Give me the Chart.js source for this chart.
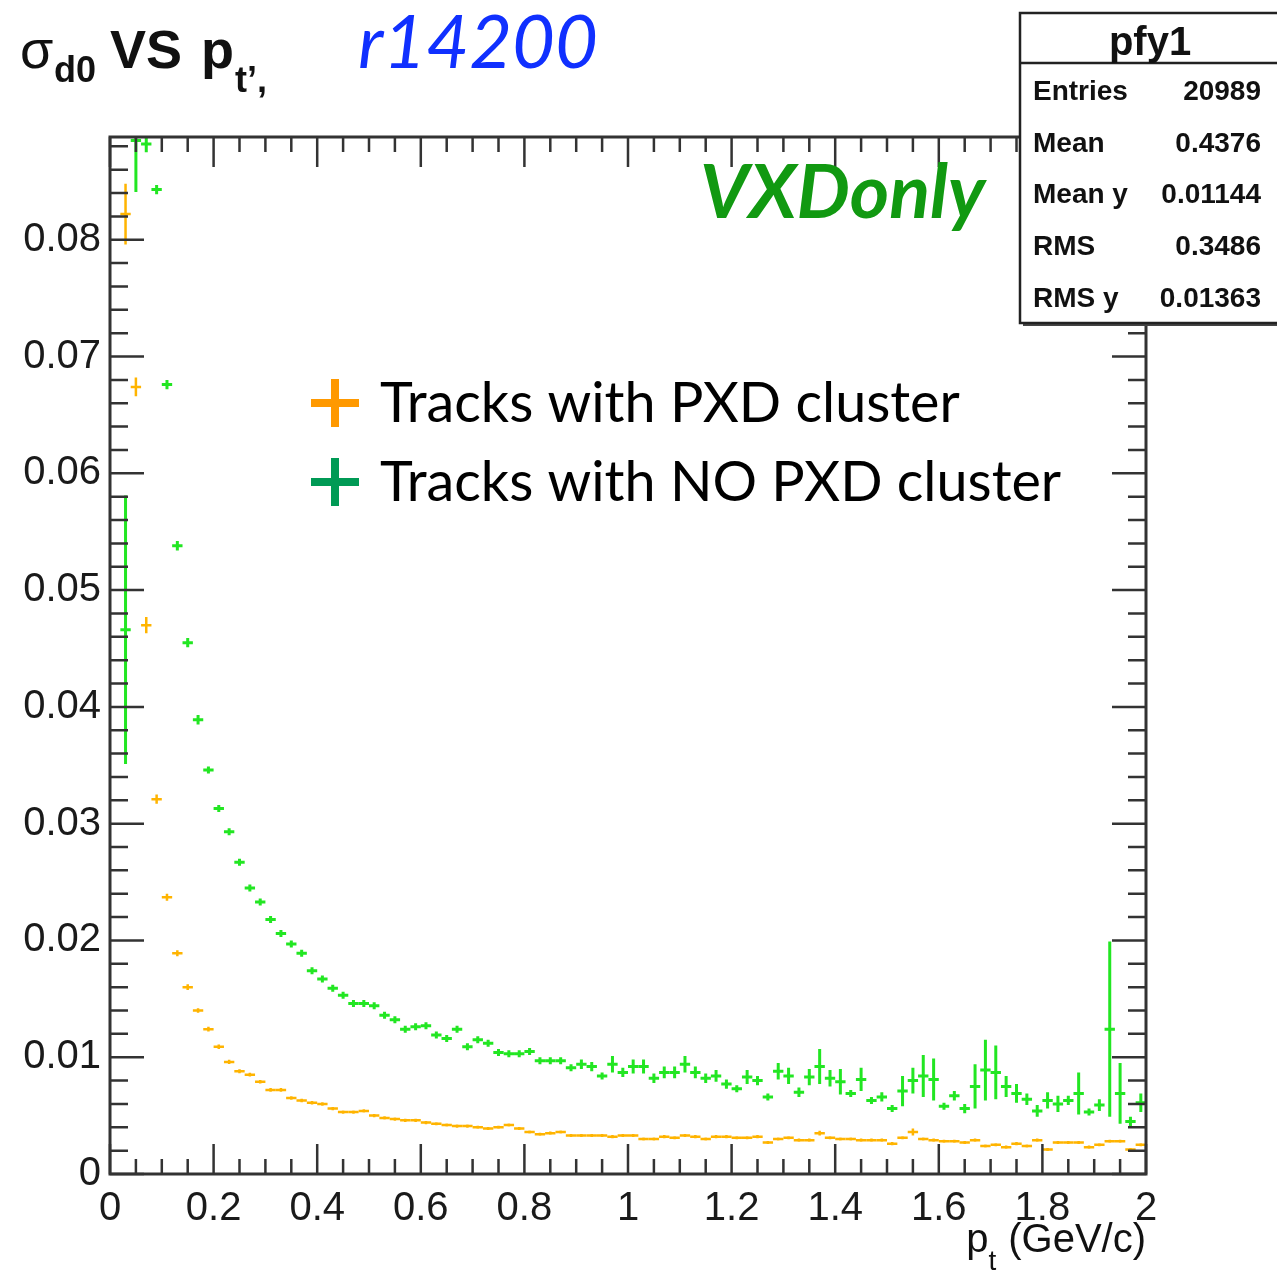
<!DOCTYPE html>
<html>
<head>
<meta charset="utf-8">
<script src="https://cdn.jsdelivr.net/npm/chart.js@4.4.1/dist/chart.umd.min.js"></script>
<style>
  html, body { margin: 0; padding: 0; background: #fff; }
  #wrap { width: 1277px; height: 1274px; }
</style>
</head>
<body>
<div id="wrap"><canvas id="myChart" width="1277" height="1274"></canvas></div>
<script>
// histogram bins: 0.02 wide, first filled bin centred at 0.03 GeV/c
const binCenters = Array.from({ length: 99 }, (_, i) => +(0.03 + 0.02 * i).toFixed(2));
const binHalfWidth = 0.01;

// tracks with PXD cluster
const pxdValues = [
  0.0822, 0.0674, 0.0470, 0.0321, 0.0237, 0.0189, 0.0160, 0.0140, 0.0124, 0.0109,
  0.0096, 0.0088, 0.0085, 0.0079, 0.0072, 0.0072, 0.0065, 0.0063, 0.0061, 0.0060,
  0.0056, 0.0053, 0.0053, 0.0054, 0.0050, 0.0048, 0.0047, 0.0046, 0.0046, 0.0044,
  0.0043, 0.0042, 0.0041, 0.0041, 0.0040, 0.0039, 0.0040, 0.0042, 0.0039, 0.0036,
  0.0034, 0.0035, 0.0036, 0.0033, 0.0033, 0.0033, 0.0033, 0.0032, 0.0033, 0.0033,
  0.0030, 0.0030, 0.0032, 0.0031, 0.0033, 0.0032, 0.0030, 0.0032, 0.0032, 0.0031,
  0.0031, 0.0032, 0.0027, 0.0030, 0.0031, 0.0029, 0.0029, 0.0035, 0.0031, 0.0030,
  0.0030, 0.0029, 0.0029, 0.0029, 0.0026, 0.0031, 0.0036, 0.0030, 0.0029, 0.0028,
  0.0028, 0.0027, 0.0029, 0.0024, 0.0025, 0.0023, 0.0026, 0.0024, 0.0029, 0.0021,
  0.0027, 0.0027, 0.0027, 0.0023, 0.0025, 0.0028, 0.0028, 0.0021, 0.0025
];
const pxdErrors = [
  0.0026, 0.0008, 0.0007, 0.0004, 0.0003, 0.00025, 0.00025, 0.0002, 0.0002, 0.0002,
  0.00018, 0.00018, 0.00016, 0.00016, 0.00016, 0.00016, 0.00015, 0.00015, 0.00015, 0.00015,
  0.00014, 0.00014, 0.00014, 0.00014, 0.00014, 0.00014, 0.00014, 0.00014, 0.00014, 0.00014,
  0.00013, 0.00013, 0.00013, 0.00013, 0.00013, 0.00013, 0.00013, 0.00013, 0.00013, 0.00013,
  0.00013, 0.00013, 0.00013, 0.00013, 0.00013, 0.00013, 0.00013, 0.00013, 0.00013, 0.00013,
  0.00013, 0.00013, 0.00013, 0.00013, 0.00013, 0.00013, 0.00013, 0.00013, 0.00013, 0.00013,
  0.00013, 0.00013, 0.00013, 0.00013, 0.00013, 0.00013, 0.00013, 0.0002, 0.00013, 0.00013,
  0.00013, 0.00013, 0.00013, 0.00013, 0.00013, 0.00013, 0.0003, 0.00013, 0.00013, 0.00013,
  0.00013, 0.00013, 0.00013, 0.00013, 0.00013, 0.00013, 0.00013, 0.00013, 0.00013, 0.00013,
  0.00013, 0.00013, 0.00013, 0.00013, 0.00013, 0.00013, 0.00013, 0.00013, 0.00013
];

// tracks with NO PXD cluster
const noPxdValues = [
  0.0466, 0.0885, 0.0882, 0.0843, 0.0676, 0.0538, 0.0455, 0.0389, 0.0346, 0.0313,
  0.0293, 0.0267, 0.0245, 0.0233, 0.0218, 0.0206, 0.0197, 0.0189, 0.0174, 0.0167,
  0.0159, 0.0153, 0.0146, 0.0146, 0.0144, 0.0136, 0.0132, 0.0124, 0.0126, 0.0127,
  0.0119, 0.0116, 0.0124, 0.0109, 0.0115, 0.0112, 0.0104, 0.0103, 0.0103, 0.0105,
  0.0097, 0.0097, 0.0097, 0.0091, 0.0094, 0.0092, 0.0084, 0.0094, 0.0087, 0.0092,
  0.0092, 0.0082, 0.0087, 0.0087, 0.0094, 0.0087, 0.0082, 0.0084, 0.0077, 0.0073,
  0.0083, 0.0080, 0.0066, 0.0088, 0.0084, 0.0070, 0.0083, 0.0092, 0.0082, 0.0079,
  0.0069, 0.0081, 0.0063, 0.0066, 0.0056, 0.0071, 0.0080, 0.0084, 0.0081, 0.0058,
  0.0067, 0.0056, 0.0075, 0.0089, 0.0087, 0.0075, 0.0069, 0.0064, 0.0054, 0.0063,
  0.0060, 0.0063, 0.0069, 0.0053, 0.0059, 0.0124, 0.0069, 0.0045, 0.0061
];
const noPxdErrors = [
  0.0115, 0.0044, 0.0007, 0.0004, 0.0004, 0.0004, 0.0004, 0.0004, 0.0003, 0.0003,
  0.0003, 0.0003, 0.0003, 0.0003, 0.0003, 0.0003, 0.0003, 0.0003, 0.0003, 0.0003,
  0.0003, 0.0003, 0.0003, 0.0003, 0.0003, 0.0003, 0.0003, 0.0003, 0.0003, 0.0003,
  0.0003, 0.0003, 0.0003, 0.0003, 0.0003, 0.0003, 0.0003, 0.0003, 0.0003, 0.0003,
  0.0003, 0.0003, 0.0003, 0.0003, 0.0004, 0.0004, 0.0003, 0.0007, 0.0004, 0.0006,
  0.0006, 0.0004, 0.0005, 0.0005, 0.0007, 0.0005, 0.0004, 0.0005, 0.0004, 0.0003,
  0.0006, 0.0004, 0.0003, 0.0007, 0.0007, 0.0004, 0.0007, 0.0015, 0.0007, 0.0011,
  0.0003, 0.0010, 0.0003, 0.0004, 0.0003, 0.0013, 0.0011, 0.0018, 0.0018, 0.0003,
  0.0004, 0.0004, 0.0019, 0.0026, 0.0023, 0.0009, 0.0008, 0.0005, 0.0005, 0.0007,
  0.0007, 0.0004, 0.0018, 0.0003, 0.0005, 0.0075, 0.0026, 0.0004, 0.0008
];

const xMajor = [0, 0.2, 0.4, 0.6, 0.8, 1, 1.2, 1.4, 1.6, 1.8, 2];
const xTickLabels = ['0', '0.2', '0.4', '0.6', '0.8', '1', '1.2', '1.4', '1.6', '1.8', '2'];
const yMajor = [0, 0.01, 0.02, 0.03, 0.04, 0.05, 0.06, 0.07, 0.08];
const yTickLabels = ['0', '0.01', '0.02', '0.03', '0.04', '0.05', '0.06', '0.07', '0.08'];
const yMax = 0.0888;

const statsTitle = 'pfy1';
const statsNames = ['Entries', 'Mean', 'Mean y', 'RMS', 'RMS y'];
const statsValues = ['20989', '0.4376', '0.01144', '0.3486', '0.01363'];

const legendLabels = ['Tracks with PXD cluster', 'Tracks with NO PXD cluster'];
const legendColors = ['#ff9900', '#009a55'];

const toPoints = (vals, errs) => binCenters.map((x, i) => ({ x: x, y: vals[i], e: errs[i] }));

function fitFont(ctx, text, width, style, family) {
  ctx.font = style + ' 100px ' + family;
  const s = 100 * width / ctx.measureText(text).width;
  return style + ' ' + s.toFixed(1) + 'px ' + family;
}

const rootLook = {
  id: 'rootLook',
  afterDatasetsDraw(chart) {
    const { ctx, chartArea: a, scales: { x, y } } = chart;
    ctx.save();
    ctx.beginPath();
    ctx.rect(a.left, a.top, a.right - a.left, a.bottom - a.top);
    ctx.clip();
    chart.data.datasets.forEach(ds => {
      ctx.strokeStyle = ds.borderColor;
      ctx.lineWidth = ds.barWidth;
      ds.data.forEach(p => {
        const px = x.getPixelForValue(p.x), py = y.getPixelForValue(p.y);
        ctx.beginPath();
        ctx.moveTo(x.getPixelForValue(p.x - binHalfWidth), py);
        ctx.lineTo(x.getPixelForValue(p.x + binHalfWidth), py);
        ctx.moveTo(px, y.getPixelForValue(p.y - p.e));
        ctx.lineTo(px, y.getPixelForValue(p.y + p.e));
        ctx.stroke();
      });
    });
    ctx.restore();
  },
  afterDraw(chart) {
    const { ctx, chartArea: a, scales: { x, y } } = chart;
    ctx.save();
    // ticks pointing inwards, on all four sides
    ctx.strokeStyle = '#333';
    ctx.lineWidth = 2.5;
    ctx.beginPath();
    for (let i = 0; i <= 40; i++) {
      const v = i * 0.05, px = x.getPixelForValue(v);
      const len = (i % 4 === 0) ? 30 : 15;
      ctx.moveTo(px, a.bottom); ctx.lineTo(px, a.bottom - len);
      ctx.moveTo(px, a.top); ctx.lineTo(px, a.top + len);
    }
    for (let i = 0; i * 0.002 <= yMax; i++) {
      const py = y.getPixelForValue(i * 0.002);
      const len = (i % 5 === 0) ? 34 : 18;
      ctx.moveTo(a.left, py); ctx.lineTo(a.left + len, py);
      ctx.moveTo(a.right, py); ctx.lineTo(a.right - len, py);
    }
    ctx.stroke();
    ctx.lineWidth = 3;
    ctx.strokeRect(a.left, a.top, a.right - a.left, a.bottom - a.top);

    // title
    ctx.fillStyle = '#111';
    ctx.textAlign = 'left';
    ctx.textBaseline = 'alphabetic';
    ctx.font = '54px "Liberation Sans"';
    ctx.fillText('σ', 20, 68);
    ctx.font = 'bold 36px "Liberation Sans"';
    ctx.fillText('d0', 54, 82);
    ctx.font = 'bold 54px "Liberation Sans"';
    ctx.fillText('VS', 110, 68);
    ctx.fillText('p', 201, 68);
    ctx.font = 'bold 36px "Liberation Sans"';
    ctx.fillText('t\u2019,', 235, 92);

    ctx.fillStyle = '#1030ff';
    ctx.font = fitFont(ctx, 'r14200', 240, 'italic', 'Lato');
    ctx.fillText('r14200', 358, 68);

    ctx.fillStyle = '#119911';
    ctx.font = fitFont(ctx, 'VXDonly', 285, 'italic bold', 'Lato');
    ctx.fillText('VXDonly', 700, 218);

    // axis title
    ctx.fillStyle = '#111';
    ctx.font = '40px "Liberation Sans"';
    ctx.textAlign = 'right';
    ctx.fillText('(GeV/c)', a.right, 1252);
    const gw = ctx.measureText('(GeV/c)').width;
    ctx.font = '28px "Liberation Sans"';
    ctx.fillText('t', a.right - gw - 12, 1270);
    const tw = ctx.measureText('t').width;
    ctx.font = '40px "Liberation Sans"';
    ctx.fillText('p', a.right - gw - 12 - tw, 1252);

    // legend
    ctx.textAlign = 'left';
    const legFont = fitFont(ctx, legendLabels[0], 580, 'normal', 'Lato');
    legendLabels.forEach((lab, i) => {
      const cy = 403 + i * 79;
      ctx.strokeStyle = legendColors[i];
      ctx.lineWidth = 8;
      ctx.beginPath();
      ctx.moveTo(311, cy); ctx.lineTo(359, cy);
      ctx.moveTo(335, cy - 24); ctx.lineTo(335, cy + 24);
      ctx.stroke();
      ctx.fillStyle = '#000';
      ctx.font = legFont;
      ctx.fillText(lab, 380, cy + 19);
    });

    // stats box
    ctx.fillStyle = '#444';
    ctx.fillRect(1023, 16, 260, 310);
    ctx.fillStyle = '#fff';
    ctx.fillRect(1020, 13, 260, 310);
    ctx.strokeStyle = '#222';
    ctx.lineWidth = 2.5;
    ctx.strokeRect(1020, 13, 260, 310);
    ctx.beginPath();
    ctx.moveTo(1020, 63); ctx.lineTo(1277, 63);
    ctx.stroke();
    ctx.fillStyle = '#111';
    ctx.textAlign = 'center';
    ctx.font = 'bold 40px "Liberation Sans"';
    ctx.fillText(statsTitle, 1150, 55);
    ctx.font = 'bold 28px "Liberation Sans"';
    statsNames.forEach((n, i) => {
      const by = 100 + i * 51.7;
      ctx.textAlign = 'left';
      ctx.fillText(n, 1033, by);
      ctx.textAlign = 'right';
      ctx.fillText(statsValues[i], 1261, by);
    });
    ctx.restore();
  }
};

const ctx = document.getElementById('myChart').getContext('2d');
const myChart = new Chart(ctx, {
  type: 'scatter',
  data: {
    datasets: [{
      label: legendLabels[0],
      data: toPoints(pxdValues, pxdErrors),
      borderColor: '#ffb400',
      backgroundColor: '#ffb400',
      barWidth: 2.5,
      pointRadius: 0,
      showLine: false
    }, {
      label: legendLabels[1],
      data: toPoints(noPxdValues, noPxdErrors),
      borderColor: '#22e622',
      backgroundColor: '#22e622',
      barWidth: 3,
      pointRadius: 0,
      showLine: false
    }]
  },
  options: {
    responsive: false,
    animation: false,
    devicePixelRatio: 1,
    layout: { padding: { top: 137, right: 131, bottom: 0, left: 0 } },
    plugins: {
      legend: { display: false },
      tooltip: { enabled: false },
      title: { display: false }
    },
    scales: {
      x: {
        type: 'linear',
        min: 0,
        max: 2,
        afterBuildTicks: axis => { axis.ticks = xMajor.map(v => ({ value: v })); },
        afterFit: axis => { axis.height = 100; },
        grid: { display: false, drawTicks: false },
        border: { display: false },
        ticks: {
          autoSkip: false,
          maxRotation: 0,
          padding: 11,
          color: '#1a1a1a',
          font: { family: 'Liberation Sans', size: 40 },
          callback: (v, i) => xTickLabels[i]
        }
      },
      y: {
        type: 'linear',
        min: 0,
        max: yMax,
        afterBuildTicks: axis => { axis.ticks = yMajor.map(v => ({ value: v })); },
        afterFit: axis => { axis.width = 110; },
        grid: { display: false, drawTicks: false },
        border: { display: false },
        ticks: {
          autoSkip: false,
          padding: 9,
          color: '#1a1a1a',
          font: { family: 'Liberation Sans', size: 40 },
          callback: (v, i) => yTickLabels[i]
        }
      }
    }
  },
  plugins: [rootLook]
});
</script>
</body>
</html>
